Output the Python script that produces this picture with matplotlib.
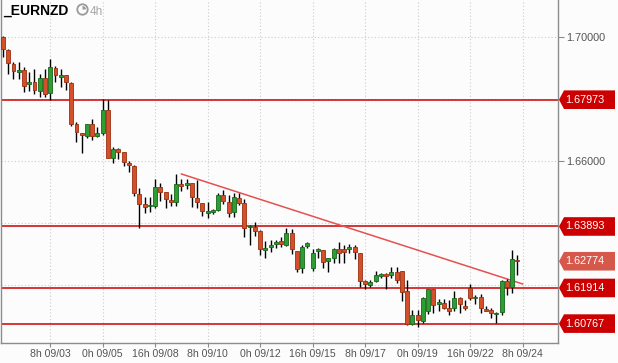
import matplotlib.pyplot as plt
from matplotlib.patches import Polygon, Circle, Wedge
from matplotlib import transforms

plt.rcParams['font.family'] = ['Liberation Sans', 'DejaVu Sans']

symbol = "_EURNZD"
timeframe = "4h"

# 4h candles
opens = [1.6999, 1.6957, 1.6912, 1.6887, 1.6893, 1.6849, 1.6854, 1.6825, 1.6867, 1.6818,
         1.6900, 1.6871, 1.6877, 1.6852, 1.6719, 1.6690, 1.6681, 1.6718, 1.6681, 1.6690,
         1.6764, 1.6609, 1.6639, 1.6628, 1.6594, 1.6585, 1.6493, 1.6462, 1.6454, 1.6456,
         1.6515, 1.6499, 1.6475, 1.6469, 1.6525, 1.6524, 1.6529, 1.6480, 1.6464, 1.6434,
         1.6437, 1.6442, 1.6491, 1.6469, 1.6437, 1.6482, 1.6464, 1.6387, 1.6389, 1.6376,
         1.6314, 1.6322, 1.6332, 1.6343, 1.6330, 1.6367, 1.6310, 1.6255, 1.6327, 1.6255,
         1.6310, 1.6314, 1.6278, 1.6289, 1.6317, 1.6317, 1.6317, 1.6322, 1.6303, 1.6215,
         1.6201, 1.6215, 1.6230, 1.6236, 1.6233, 1.6244, 1.6246, 1.6182, 1.6076, 1.6104,
         1.6085, 1.6118, 1.6187, 1.6139, 1.6144, 1.6126, 1.6126, 1.6160, 1.6134, 1.6190,
         1.6158, 1.6161, 1.6124, 1.6121, 1.6108, 1.6115, 1.6214, 1.6196, 1.6281]
highs = [1.7002, 1.6960, 1.6918, 1.6919, 1.6903, 1.6887, 1.6896, 1.6879, 1.6896, 1.6928,
         1.6907, 1.6896, 1.6878, 1.6855, 1.6725, 1.6691, 1.6719, 1.6734, 1.6710, 1.6798,
         1.6796, 1.6646, 1.6641, 1.6630, 1.6600, 1.6587, 1.6512, 1.6485, 1.6485, 1.6542,
         1.6528, 1.6500, 1.6494, 1.6558, 1.6542, 1.6542, 1.6530, 1.6539, 1.6465, 1.6469,
         1.6446, 1.6496, 1.6507, 1.6491, 1.6496, 1.6496, 1.6478, 1.6393, 1.6403, 1.6377,
         1.6343, 1.6346, 1.6346, 1.6356, 1.6383, 1.6380, 1.6311, 1.6330, 1.6338, 1.6317,
         1.6319, 1.6315, 1.6289, 1.6321, 1.6340, 1.6330, 1.6332, 1.6330, 1.6304, 1.6217,
         1.6217, 1.6247, 1.6241, 1.6239, 1.6258, 1.6258, 1.6247, 1.6217, 1.6121, 1.6121,
         1.6163, 1.6188, 1.6188, 1.6155, 1.6155, 1.6153, 1.6182, 1.6161, 1.6153, 1.6204,
         1.6169, 1.6172, 1.6134, 1.6126, 1.6115, 1.6217, 1.6219, 1.6314, 1.6298]
lows = [1.6935, 1.6880, 1.6864, 1.6864, 1.6823, 1.6825, 1.6816, 1.6807, 1.6807, 1.6796,
        1.6855, 1.6839, 1.6828, 1.6714, 1.6660, 1.6625, 1.6673, 1.6668, 1.6678, 1.6685,
        1.6609, 1.6595, 1.6606, 1.6585, 1.6566, 1.6488, 1.6383, 1.6432, 1.6437, 1.6448,
        1.6472, 1.6448, 1.6456, 1.6456, 1.6504, 1.6509, 1.6453, 1.6450, 1.6424, 1.6418,
        1.6428, 1.6439, 1.6462, 1.6419, 1.6419, 1.6458, 1.6354, 1.6330, 1.6359, 1.6298,
        1.6287, 1.6306, 1.6319, 1.6324, 1.6326, 1.6301, 1.6244, 1.6239, 1.6319, 1.6247,
        1.6289, 1.6257, 1.6242, 1.6271, 1.6271, 1.6271, 1.6303, 1.6284, 1.6196, 1.6188,
        1.6194, 1.6212, 1.6224, 1.6188, 1.6223, 1.6206, 1.6149, 1.6072, 1.6072, 1.6066,
        1.6078, 1.6108, 1.6110, 1.6118, 1.6124, 1.6104, 1.6117, 1.6112, 1.6121, 1.6153,
        1.6139, 1.6112, 1.6116, 1.6096, 1.6078, 1.6104, 1.6169, 1.6176, 1.6233]
closes = [1.6960, 1.6914, 1.6891, 1.6893, 1.6842, 1.6854, 1.6828, 1.6867, 1.6816, 1.6902,
          1.6877, 1.6877, 1.6855, 1.6719, 1.6694, 1.6684, 1.6718, 1.6681, 1.6690, 1.6764,
          1.6611, 1.6639, 1.6630, 1.6596, 1.6587, 1.6498, 1.6462, 1.6453, 1.6458, 1.6515,
          1.6501, 1.6479, 1.6469, 1.6525, 1.6521, 1.6529, 1.6483, 1.6469, 1.6440, 1.6439,
          1.6442, 1.6491, 1.6472, 1.6434, 1.6483, 1.6466, 1.6383, 1.6391, 1.6376, 1.6316,
          1.6319, 1.6330, 1.6340, 1.6333, 1.6367, 1.6317, 1.6252, 1.6324, 1.6337, 1.6305,
          1.6316, 1.6276, 1.6287, 1.6317, 1.6303, 1.6308, 1.6323, 1.6308, 1.6215, 1.6204,
          1.6210, 1.6233, 1.6236, 1.6231, 1.6244, 1.6217, 1.6179, 1.6075, 1.6104, 1.6088,
          1.6158, 1.6187, 1.6137, 1.6145, 1.6128, 1.6118, 1.6160, 1.6140, 1.6128, 1.6160,
          1.6163, 1.6128, 1.6117, 1.6110, 1.6112, 1.6214, 1.6196, 1.6284, 1.62774]

time_ticks = [9, 19, 29, 39, 49, 59, 69, 79, 89, 99]
time_labels = ["8h 09/03", "0h 09/05", "16h 09/08", "8h 09/10", "0h 09/12",
               "16h 09/15", "8h 09/17", "0h 09/19", "16h 09/22", "8h 09/24"]
price_ticks = [1.70, 1.66]
grid_prices = [1.70, 1.68, 1.66, 1.64, 1.62]
level_prices = [1.67973, 1.63893, 1.61914, 1.60767]
last_price = 1.62774
trend_x = [34, 99]
trend_y = [1.65582, 1.62043]

W, H = 618, 363
bg = '#fcfcfc'
fig = plt.figure(figsize=(W / 100, H / 100), dpi=100)
fig.patch.set_facecolor(bg)
ax = fig.add_axes([1 / W, 20 / H, 557 / W, 343 / H])
ax.set_facecolor(bg)
ymin, ymax = 1.60143, 1.71181
ax.set_xlim(-0.38, 105.75)
ax.set_ylim(ymin, ymax)

# grid
for p in grid_prices:
    ax.axhline(p, color='#cccccc', lw=0.8, ls=(0, (1, 2)), zorder=0)
for t in time_ticks:
    ax.axvline(t, color='#cccccc', lw=0.8, ls=(0, (1, 2)), zorder=0)

# levels and trend line
for p in level_prices:
    ax.axhline(p, color='#cc0000', lw=1.1, zorder=1)
ax.plot(trend_x, trend_y, color='#e65050', lw=1.1, zorder=1)

# candles
xs = range(len(opens))
for i in xs:
    o, h, l, c = opens[i], highs[i], lows[i], closes[i]
    up = c >= o
    ax.vlines(i, l, h, color='black', lw=1.0, zorder=2)
    fc, ec = ('#2e9e33', '#17661a') if up else ('#d4502a', '#9a2f10')
    ax.bar(i, max(abs(c - o), 0.00035), bottom=min(o, c), width=0.75,
           color=fc, edgecolor=ec, linewidth=0.6, zorder=3)

# axes styling
for s in ['left', 'right', 'bottom']:
    ax.spines[s].set_color('#8c8c8c')
    ax.spines[s].set_linewidth(1.0)
ax.spines['top'].set_visible(False)
ax.yaxis.tick_right()
ax.set_yticks(price_ticks)
ax.set_yticklabels([f"{p:.5f}" for p in price_ticks])
ax.set_xticks(time_ticks)
ax.set_xticklabels(time_labels)
ax.tick_params(axis='y', length=4, color='#8c8c8c', labelcolor='#555555',
               labelsize=7.8, pad=2)
ax.tick_params(axis='x', length=3, color='#8c8c8c', labelcolor='#555555',
               labelsize=7.6, pad=1)

# price tags at the right
trans = transforms.blended_transform_factory(fig.transFigure, ax.transData)
hh = 9.3 * (ymax - ymin) / 343
tags = [(p, '#cc0000') for p in level_prices] + [(last_price, '#d6584a')]
for p, col in tags:
    pts = [(559 / W, p), (564 / W, p + hh), (615 / W, p + hh),
           (615 / W, p - hh), (564 / W, p - hh)]
    ax.add_patch(Polygon(pts, closed=True, transform=trans, facecolor=col,
                         edgecolor='none', clip_on=False, zorder=5))
    ax.text(565 / W, p, f"{p:.5f}", transform=trans, color='white',
            fontsize=7.8, ha='left', va='center', clip_on=False, zorder=6)

# header
fig.text(3 / W, 1 - 15 / H, symbol, fontsize=10, fontweight='bold',
         color='black', va='baseline')
ck = (0.825, (H - 9.5) / 100)
fig.patches.append(Circle(ck, 0.052, transform=fig.dpi_scale_trans,
                          facecolor='none', edgecolor='#9a9a9a', lw=1.3))
fig.patches.append(Wedge(ck, 0.035, 0, 90, transform=fig.dpi_scale_trans,
                         facecolor='#9a9a9a', edgecolor='none'))
fig.text(90 / W, 1 - 15 / H, timeframe, fontsize=8.5, color='#a8a8a8',
         va='baseline')

fig.savefig('out.png', dpi=100, facecolor=bg)
